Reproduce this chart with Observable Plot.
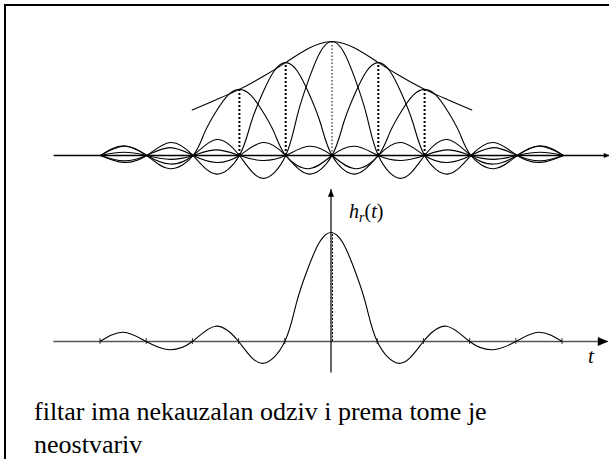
<!DOCTYPE html>
<html>
<head>
<meta charset="utf-8">
<script src="https://cdn.jsdelivr.net/npm/d3@7"></script>
<script src="https://cdn.jsdelivr.net/npm/@observablehq/plot@0.6"></script>
<style>
  html, body { margin: 0; padding: 0; background: #fff; }
  body { width: 609px; height: 459px; position: relative; overflow: hidden; color: #000; }
  #frame { position: absolute; left: 4px; top: 4px; right: -20px; bottom: -20px;
           border-top: 2.5px solid #000; border-left: 2.5px solid #000; }
  #panelTop, #panelBottom { position: absolute; left: 0; }
  #panelTop { top: 0; }
  #panelBottom { top: 180px; }
  .serif { font-family: 'Liberation Serif'; }
  .lab { position: absolute; font-size: 20px; line-height: 20px; white-space: nowrap; }
  .lab .sub { font-size: 14px; position: relative; top: 4px; font-style: italic; }
  #hlab { left: 349px; top: 201px; }
  #tlab { left: 588px; top: 346px; font-size: 21px; }
  #caption { position: absolute; left: 34px; top: 395px; font-size: 26px; line-height: 33px; white-space: nowrap; }
</style>
</head>
<body>
<div id="frame"></div>
<div id="panelTop"></div>
<div id="panelBottom"></div>
<div class="lab serif" id="hlab"><i>h</i><span class="sub">r</span>(<i>t</i>)</div>
<div class="lab serif" id="tlab"><i>t</i></div>
<div class="serif" id="caption">filtar ima nekauzalan odziv i prema tome je<br>neostvariv</div>
<script>
// Samples of the signal (top panel): positions and heights
const sampleT = [-2, -1, 0, 1, 2];
const sampleV = [0.58, 0.815, 1, 0.815, 0.58];

// Smooth envelope through the samples
const envT = [-3.02, -2.5, -2, -1.5, -1, -0.5, 0, 0.5, 1, 1.5, 2, 2.5, 3.02];
const envV = [0.40, 0.49, 0.58, 0.69, 0.815, 0.94, 1, 0.94, 0.815, 0.69, 0.58, 0.49, 0.40];

// Reconstruction filter impulse response h_r(t)
const kernelT = [-7, -6.5, -6, -5.5, -5, -4.5, -4, -3.5, -3, -2.5, -2, -1.5, -1, -0.75, -0.5, -0.25,
                 0, 0.25, 0.5, 0.75, 1, 1.5, 2, 2.5, 3, 3.5, 4, 4.5, 5, 5.5, 6, 6.5, 7];
const kernelV = [0, 0.049, 0, -0.058, 0, 0.085, 0, -0.075, 0, 0.14, 0, -0.2, 0, 0.35, 0.67, 0.91,
                 1, 0.91, 0.67, 0.35, 0, -0.2, 0, 0.14, 0, -0.075, 0, 0.085, 0, -0.058, 0, 0.049, 0];

// Zero crossings marked on the time axis
const zeroTicks = [-5, -4, -3, -2, -1, 1, 2, 3, 4, 5];

// Extents of the drawn axes
const axisT = [-6, 6];
const vAxis = [-0.29, 1.394];
const span = [-5, 5];

const kernel = kernelT.map((t, i) => ({t, v: kernelV[i]}));
const samples = sampleT.map((t, i) => ({t, v: sampleV[i]}));
const envelope = envT.map((t, i) => ({t, v: envV[i]}));
const shifted = samples.flatMap((s, j) =>
  kernel.map(k => ({id: j, t: k.t + s.t, v: k.v * s.v}))
        .filter(d => d.t >= span[0] && d.t <= span[1]));

// Filled arrowhead whose tip sits at the anchor point
const arrowHead = {
  draw(ctx, size) {
    const r = Math.sqrt(size / Math.PI);
    const L = 2.6 * r, W = 2.2 * r;
    ctx.moveTo(0, 0);
    ctx.lineTo(-L, -W / 2);
    ctx.lineTo(-L, W / 2);
    ctx.closePath();
  }
};

const plotStyle = {background: "transparent", overflow: "visible"};

const samplesPlot = Plot.plot({
  width: 609, height: 180, style: plotStyle,
  x: {domain: span, range: [100, 563], axis: null},
  y: {domain: [0, 1], range: [155, 41], axis: null},
  marks: [
    Plot.ruleY([0], {x1: axisT[0], x2: axisT[1], stroke: "#000", strokeWidth: 1.3}),
    Plot.dot([axisT[1]], {x: d => d, y: 0, symbol: arrowHead, r: 2.3, fill: "#000", stroke: "none"}),
    Plot.line(shifted, {x: "t", y: "v", z: "id", curve: "natural", stroke: "#000", strokeWidth: 1.1}),
    Plot.line(envelope, {x: "t", y: "v", curve: "natural", stroke: "#000", strokeWidth: 1.1}),
    Plot.ruleX(samples.filter(d => d.t !== 0), {x: "t", y1: 0, y2: "v", stroke: "#000", strokeWidth: 2, strokeDasharray: "2,2"}),
    Plot.ruleX(samples.filter(d => d.t === 0), {x: "t", y1: 0, y2: "v", stroke: "#000", strokeWidth: 1, strokeDasharray: "1.5,2"})
  ]
});
document.getElementById("panelTop").append(samplesPlot);

const responsePlot = Plot.plot({
  width: 609, height: 200, style: plotStyle,
  x: {domain: span, range: [99.5, 561.5], axis: null},
  y: {domain: [0, 1], range: [161, 52], axis: null},
  marks: [
    Plot.ruleY([0], {x1: axisT[0], x2: axisT[1], stroke: "#555", strokeWidth: 1.4}),
    Plot.dot([axisT[1]], {x: d => d, y: 0, symbol: arrowHead, r: 4, fill: "#000", stroke: "none"}),
    Plot.ruleX([0], {x: d => d, y1: vAxis[0], y2: vAxis[1], stroke: "#000", strokeWidth: 1.2}),
    Plot.dot([0], {x: d => d, y: vAxis[1], symbol: arrowHead, r: 2.8, rotate: -90, fill: "#000", stroke: "none"}),
    Plot.ruleX(zeroTicks, {x: d => d, y1: 0, y2: 0, insetTop: -3, insetBottom: -3, stroke: "#333", strokeWidth: 1}),
    Plot.ruleX(samples.filter(d => d.t === 0), {x: "t", y1: 0, y2: "v", dx: 1.5, stroke: "#000", strokeWidth: 1, strokeDasharray: "2,1.5"}),
    Plot.line(kernel.filter(d => d.t >= span[0] && d.t <= span[1]), {x: "t", y: "v", curve: "natural", stroke: "#000", strokeWidth: 1.1})
  ]
});
document.getElementById("panelBottom").append(responsePlot);
</script>
</body>
</html>
